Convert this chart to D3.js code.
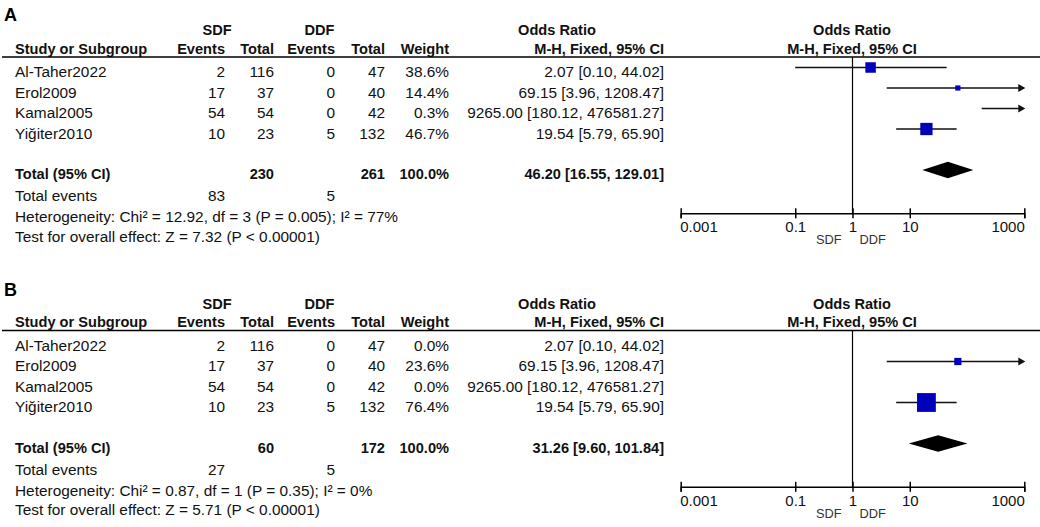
<!DOCTYPE html>
<html>
<head>
<meta charset="utf-8">
<script src="https://cdn.jsdelivr.net/npm/d3@7"></script>
<style>
  html, body { margin: 0; padding: 0; background: #fff; }
  svg { display: block; font-family: "Liberation Sans", Arial, sans-serif; }
</style>
</head>
<body>
<svg id="chart" width="1040" height="527"></svg>
<script>
// ---- data ----
const studies = ["Al-Taher2022", "Erol2009", "Kamal2005", "Yiğiter2010"];
const sdfEvents = [2, 17, 54, 10];
const sdfTotal = [116, 37, 54, 23];
const ddfEvents = [0, 0, 0, 5];
const ddfTotal = [47, 40, 42, 132];
const orValue = [2.07, 69.15, 9265.00, 19.54];
const ciLow = [0.10, 3.96, 180.12, 5.79];
const ciHigh = [44.02, 1208.47, 476581.27, 65.90];
const weightA = [38.6, 14.4, 0.3, 46.7];
const weightB = [0.0, 23.6, 0.0, 76.4];

const panelLabels = ["A", "B"];
const panelWeights = [weightA, weightB];
const totalSdf = [230, 60];
const totalDdf = [261, 172];
const totalEventsSdf = [83, 27];
const totalEventsDdf = [5, 5];
const pooledOR = [46.20, 31.26];
const pooledLow = [16.55, 9.60];
const pooledHigh = [129.01, 101.84];
const heterogeneity = [
  "Heterogeneity: Chi² = 12.92, df = 3 (P = 0.005); I² = 77%",
  "Heterogeneity: Chi² = 0.87, df = 1 (P = 0.35); I² = 0%"
];
const overallEffect = [
  "Test for overall effect: Z = 7.32 (P < 0.00001)",
  "Test for overall effect: Z = 5.71 (P < 0.00001)"
];
const tickValues = [0.001, 0.1, 1, 10, 1000];
const tickLabels = ["0.001", "0.1", "1", "10", "1000"];
const favourLabels = ["SDF", "DDF"];

// ---- layout ----
const svg = d3.select("#chart");
const x = d3.scaleLog().domain([0.001, 1000]).range([680.7, 1024.3]);
const boxSize = d3.scaleLinear().domain([0, 100]).range([2, 24]);
const panelOffset = [0, 273.5];
const titleOffset = [0, 275];

const NORMAL = 15.4, BOLD = 14.6;
const OR_RIGHT = 664, W_RIGHT = 449;
const f2 = d3.format(".2f"), f1 = d3.format(".1f");
const orText = (v, l, h) => `${f2(v)} [${f2(l)}, ${f2(h)}]`;

function txt(g, s, xp, yp, opts = {}) {
  return g.append("text")
    .attr("x", xp).attr("y", yp)
    .attr("text-anchor", opts.anchor || "start")
    .attr("font-size", opts.size || NORMAL)
    .attr("font-weight", opts.bold ? "bold" : "normal")
    .attr("fill", opts.fill || "#111")
    .text(s);
}

panelLabels.forEach((lab, p) => {
  const g = svg.append("g").attr("transform", `translate(0,${panelOffset[p]})`);
  const weights = panelWeights[p];

  svg.append("text").attr("x", 4).attr("y", 20.7 + titleOffset[p])
    .attr("font-size", 18).attr("font-weight", "bold").attr("fill", "#000").text(lab);

  // headers
  txt(g, "SDF", 217, 35, { anchor: "middle", bold: true, size: BOLD });
  txt(g, "DDF", 319.5, 35, { anchor: "middle", bold: true, size: BOLD });
  txt(g, "Odds Ratio", 557, 35, { anchor: "middle", bold: true, size: BOLD });
  txt(g, "Odds Ratio", 852, 35, { anchor: "middle", bold: true, size: BOLD });
  txt(g, "Study or Subgroup", 15, 53.5, { bold: true, size: BOLD });
  txt(g, "Events", 225, 53.5, { anchor: "end", bold: true, size: BOLD });
  txt(g, "Total", 274, 53.5, { anchor: "end", bold: true, size: BOLD });
  txt(g, "Events", 335, 53.5, { anchor: "end", bold: true, size: BOLD });
  txt(g, "Total", 385, 53.5, { anchor: "end", bold: true, size: BOLD });
  txt(g, "Weight", W_RIGHT, 53.5, { anchor: "end", bold: true, size: BOLD });
  txt(g, "M-H, Fixed, 95% CI", OR_RIGHT, 53.5, { anchor: "end", bold: true, size: BOLD });
  txt(g, "M-H, Fixed, 95% CI", 852, 53.5, { anchor: "middle", bold: true, size: BOLD });

  g.append("line").attr("x1", 2).attr("x2", 1040).attr("y1", 57).attr("y2", 57)
    .attr("stroke", "#000").attr("stroke-width", 1.3);

  // null line
  g.append("line").attr("x1", x(1)).attr("x2", x(1)).attr("y1", 57).attr("y2", 213.3)
    .attr("stroke", "#000").attr("stroke-width", 1.2);

  // study rows
  studies.forEach((s, i) => {
    const base = 77.3 + i * 20.5;
    const my = base - 9.8;
    txt(g, s, 15, base);
    txt(g, sdfEvents[i], 225, base, { anchor: "end" });
    txt(g, sdfTotal[i], 274, base, { anchor: "end" });
    txt(g, ddfEvents[i], 335, base, { anchor: "end" });
    txt(g, ddfTotal[i], 385, base, { anchor: "end" });
    txt(g, f1(weights[i]) + "%", W_RIGHT, base, { anchor: "end" });
    txt(g, orText(orValue[i], ciLow[i], ciHigh[i]), OR_RIGHT, base, { anchor: "end" });

    if (weights[i] <= 0) return;
    const [d0, d1] = x.domain();
    const lo = Math.max(ciLow[i], d0), hi = Math.min(ciHigh[i], d1);
    const arrowR = ciHigh[i] > d1;
    const xEnd = arrowR ? x(d1) + 1 : x(hi);
    g.append("line").attr("x1", x(lo)).attr("x2", arrowR ? xEnd - 6 : xEnd)
      .attr("y1", my).attr("y2", my).attr("stroke", "#111").attr("stroke-width", 1.3);
    if (arrowR) {
      g.append("path")
        .attr("d", `M${xEnd},${my}L${xEnd - 7},${my - 4}L${xEnd - 7},${my + 4}Z`)
        .attr("fill", "#111");
    }
    if (orValue[i] >= d0 && orValue[i] <= d1) {
      const sz = boxSize(weights[i]);
      g.append("rect").attr("x", x(orValue[i]) - sz / 2).attr("y", my - sz / 2)
        .attr("width", sz).attr("height", sz).attr("fill", "#0000bb");
    }
  });

  // totals
  const tb = 179.3;
  txt(g, "Total (95% CI)", 15, tb, { bold: true, size: BOLD });
  txt(g, totalSdf[p], 274, tb, { anchor: "end", bold: true, size: BOLD });
  txt(g, totalDdf[p], 385, tb, { anchor: "end", bold: true, size: BOLD });
  txt(g, "100.0%", W_RIGHT, tb, { anchor: "end", bold: true, size: BOLD });
  txt(g, orText(pooledOR[p], pooledLow[p], pooledHigh[p]), OR_RIGHT, tb, { anchor: "end", bold: true, size: BOLD });
  const dy = tb - 9.3;
  g.append("path")
    .attr("d", `M${x(pooledLow[p])},${dy}L${x(pooledOR[p])},${dy - 8.3}L${x(pooledHigh[p])},${dy}L${x(pooledOR[p])},${dy + 8.3}Z`)
    .attr("fill", "#000");

  txt(g, "Total events", 15, 201.2);
  txt(g, totalEventsSdf[p], 225, 201.2, { anchor: "end" });
  txt(g, totalEventsDdf[p], 335, 201.2, { anchor: "end" });
  txt(g, heterogeneity[p], 15, 222.2);
  txt(g, overallEffect[p], 15, 241.7);

  // axis
  const axis = d3.axisBottom(x).tickValues(tickValues)
    .tickFormat((d, i) => tickLabels[i]).tickSizeOuter(0).tickSize(5);
  const ag = g.append("g").attr("transform", "translate(0,213.3)").call(axis);
  ag.select(".domain").attr("stroke", "#000").attr("stroke-width", 1.5);
  ag.selectAll(".tick line").attr("y1", -5).attr("y2", 5)
    .attr("stroke", "#000").attr("stroke-width", 1.5);
  ag.selectAll(".tick text")
    .attr("y", 19).attr("dy", 0)
    .attr("font-size", 15).attr("fill", "#111")
    .attr("font-family", "'Liberation Sans', Arial, sans-serif")
    .attr("text-anchor", (d, i) => i === 0 ? "start" : (i === tickValues.length - 1 ? "end" : "middle"))
    .attr("dx", (d, i) => i === 0 ? -1 : 0);

  txt(g, favourLabels[0], x(1) - 11, 244.3, { anchor: "end", size: 12.8, fill: "#333" });
  txt(g, favourLabels[1], x(1) + 7, 244.3, { anchor: "start", size: 12.8, fill: "#333" });
});
</script>
</body>
</html>
